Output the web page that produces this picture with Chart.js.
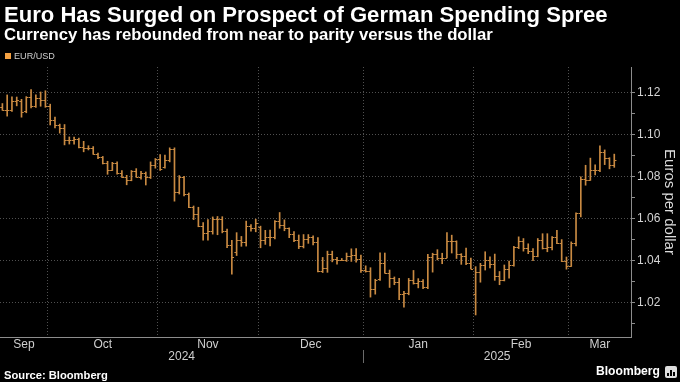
<!DOCTYPE html>
<html>
<head>
<meta charset="utf-8">
<script src="https://cdn.jsdelivr.net/npm/chart.js@4.4.1/dist/chart.umd.min.js"></script>
<style>
html,body{margin:0;padding:0;background:#000;width:680px;height:382px;overflow:hidden;font-family:"Liberation Sans",Arial,sans-serif;}
#wrap{position:relative;width:680px;height:382px;}
.t{position:absolute;white-space:nowrap;line-height:1;}
#title{left:4px;top:4px;color:#fff;font-weight:bold;font-size:21px;}
#sub{left:4px;top:27px;color:#fff;font-weight:bold;font-size:15px;}
#legsq{position:absolute;left:5px;top:53px;width:6px;height:6px;background:#f5a142;}
#legtx{left:14px;top:52px;color:#cfcfcf;font-size:9px;}
#src{left:4px;top:370px;color:#fff;font-weight:bold;font-size:11px;}
#logo{left:596px;top:365px;color:#fff;font-size:14px;font-weight:bold;}
#icon{position:absolute;left:665px;top:366px;width:12px;height:12px;background:#ddd;border-radius:2px;}
#icon i{position:absolute;bottom:2px;width:2px;background:#000;}
canvas{position:absolute;left:0;top:0;}
</style>
</head>
<body>
<div id="wrap">
<canvas id="c" width="680" height="382"></canvas>
<div class="t" id="title">Euro Has Surged on Prospect of German Spending Spree</div>
<div class="t" id="sub">Currency has rebounded from near to parity versus the dollar</div>
<div id="legsq"></div><div class="t" id="legtx">EUR/USD</div>
<div class="t" id="src">Source: Bloomberg</div>
<div class="t" id="logo">Bloomberg</div>
<div id="icon"><i style="left:2px;height:3px"></i><i style="left:5px;height:6px"></i><i style="left:8px;height:4px"></i></div>
</div>
<script>
// ---- categories (weekdays) ----
const monthNames = ['Sep','Oct','Nov','Dec','Jan','Feb','Mar'];
const monthYear  = ['2024','2024','2024','2024','2025','2025','2025'];
const yearLabels = ['2024','2025'];
const monthDays = [
  [17,18,19,20,23,24,25,26,27,30],
  [1,2,3,4,7,8,9,10,11,14,15,16,17,18,21,22,23,24,25,28,29,30,31],
  [1,4,5,6,7,8,11,12,13,14,15,18,19,20,21,22,25,26,27,28,29],
  [2,3,4,5,6,9,10,11,12,13,16,17,18,19,20,23,24,25,26,27,30,31],
  [1,2,3,6,7,8,9,10,13,14,15,16,17,20,21,22,23,24,27,28,29,30,31],
  [3,4,5,6,7,10,11,12,13,14,17,18,19,20,21,24,25,26,27,28],
  [3,4,5,6,7,10,11,12,13,14,17,18,19]
];
const yTicks = [1.01,1.02,1.03,1.04,1.05,1.06,1.07,1.08,1.09,1.10,1.11,1.12];

// ---- EUR/USD daily OHLC ----
const openV = [
 1.1132,1.1115,1.1118,1.1162,1.1160,1.1112,1.1180,1.1135,1.1176,1.1165,
 1.1135,1.1068,1.1048,1.1030,1.0975,1.0973,1.0978,1.0941,1.0935,1.0936,1.0910,1.0892,1.0863,1.0833,1.0867,1.0817,1.0797,1.0782,1.0827,1.0797,1.0816,1.0799,1.0855,
 1.0884,1.0845,1.0878,1.0930,1.0729,1.0799,1.0719,1.0655,1.0620,1.0565,1.0530,1.0541,1.0597,1.0597,1.0543,1.0473,1.0440,1.0496,1.0487,1.0565,1.0553,
 1.0560,1.0497,1.0511,1.0510,1.0587,1.0568,1.0555,1.0528,1.0499,1.0469,1.0501,1.0513,1.0490,1.0352,1.0364,1.0429,1.0407,1.0404,1.0405,1.0421,1.0426,1.0409,
 1.0354,1.0350,1.0265,1.0310,1.0390,1.0342,1.0318,1.0300,1.0243,1.0245,1.0308,1.0292,1.0301,1.0272,1.0418,1.0429,1.0410,1.0414,1.0495,1.0493,1.0430,1.0422,1.0389,
 1.0240,1.0345,1.0379,1.0404,1.0382,1.0328,1.0308,1.0362,1.0381,1.0465,1.0491,1.0458,1.0446,1.0422,1.0500,1.0459,1.0466,1.0512,1.0484,1.0400,
 1.0375,1.0484,1.0625,1.0790,1.0784,1.0833,1.0832,1.0919,1.0890,1.0853
];
const highV = [
 1.1148,1.1189,1.1180,1.1179,1.1168,1.1181,1.1214,1.1189,1.1203,1.1209,
 1.1145,1.1083,1.1050,1.1048,1.0989,1.0988,1.0983,1.0968,1.0947,1.0943,1.0912,1.0896,1.0873,1.0868,1.0870,1.0829,1.0806,1.0829,1.0838,1.0825,1.0822,1.0870,1.0886,
 1.0905,1.0902,1.0937,1.0937,1.0805,1.0801,1.0722,1.0660,1.0654,1.0581,1.0595,1.0608,1.0610,1.0609,1.0550,1.0497,1.0533,1.0515,1.0588,1.0572,1.0597,
 1.0564,1.0544,1.0545,1.0590,1.0629,1.0594,1.0556,1.0538,1.0522,1.0524,1.0524,1.0518,1.0509,1.0415,1.0445,1.0445,1.0416,1.0410,1.0436,1.0456,1.0457,1.0426,
 1.0375,1.0366,1.0311,1.0437,1.0436,1.0355,1.0322,1.0315,1.0254,1.0315,1.0353,1.0314,1.0310,1.0430,1.0435,1.0452,1.0435,1.0533,1.0521,1.0494,1.0433,1.0459,1.0412,
 1.0371,1.0387,1.0442,1.0418,1.0431,1.0348,1.0379,1.0398,1.0468,1.0513,1.0505,1.0480,1.0457,1.0505,1.0528,1.0528,1.0514,1.0544,1.0500,1.0417,
 1.0489,1.0627,1.0799,1.0854,1.0888,1.0856,1.0947,1.0927,1.0890,1.0907
];
const lowV = [
 1.1116,1.1088,1.1110,1.1137,1.1083,1.1104,1.1127,1.1130,1.1135,1.1130,
 1.1046,1.1032,1.1007,1.0951,1.0955,1.0954,1.0937,1.0918,1.0927,1.0906,1.0885,1.0860,1.0811,1.0829,1.0812,1.0796,1.0761,1.0780,1.0797,1.0788,1.0760,1.0791,1.0840,
 1.0830,1.0840,1.0870,1.0683,1.0717,1.0708,1.0652,1.0595,1.0561,1.0497,1.0497,1.0526,1.0523,1.0532,1.0462,1.0335,1.0424,1.0468,1.0469,1.0540,1.0537,
 1.0461,1.0477,1.0470,1.0503,1.0554,1.0542,1.0509,1.0490,1.0457,1.0460,1.0482,1.0475,1.0346,1.0343,1.0344,1.0394,1.0383,1.0400,1.0396,1.0396,1.0393,1.0343,
 1.0345,1.0226,1.0240,1.0305,1.0340,1.0272,1.0285,1.0214,1.0178,1.0237,1.0288,1.0270,1.0266,1.0266,1.0345,1.0403,1.0385,1.0413,1.0436,1.0410,1.0382,1.0380,1.0360,
 1.0141,1.0297,1.0355,1.0365,1.0306,1.0285,1.0303,1.0316,1.0373,1.0457,1.0445,1.0433,1.0400,1.0418,1.0455,1.0442,1.0451,1.0480,1.0395,1.0359,
 1.0372,1.0470,1.0608,1.0759,1.0782,1.0808,1.0824,1.0857,1.0837,1.0844
];
const closeV = [
 1.1115,1.1118,1.1162,1.1163,1.1110,1.1180,1.1135,1.1176,1.1165,1.1135,
 1.1068,1.1048,1.1030,1.0975,1.0973,1.0978,1.0941,1.0935,1.0936,1.0910,1.0892,1.0863,1.0833,1.0867,1.0817,1.0797,1.0782,1.0827,1.0797,1.0816,1.0799,1.0855,1.0884,
 1.0834,1.0878,1.0930,1.0729,1.0799,1.0719,1.0655,1.0620,1.0565,1.0530,1.0541,1.0597,1.0597,1.0543,1.0473,1.0418,1.0496,1.0487,1.0565,1.0553,1.0577,
 1.0497,1.0511,1.0510,1.0587,1.0568,1.0555,1.0528,1.0499,1.0469,1.0501,1.0513,1.0490,1.0352,1.0364,1.0429,1.0407,1.0404,1.0405,1.0421,1.0426,1.0409,1.0354,
 1.0350,1.0265,1.0307,1.0390,1.0342,1.0318,1.0300,1.0243,1.0245,1.0308,1.0292,1.0301,1.0272,1.0418,1.0429,1.0410,1.0414,1.0495,1.0493,1.0430,1.0422,1.0389,1.0362,
 1.0345,1.0379,1.0404,1.0382,1.0328,1.0308,1.0362,1.0381,1.0465,1.0491,1.0458,1.0446,1.0422,1.0500,1.0459,1.0466,1.0512,1.0484,1.0400,1.0375,
 1.0484,1.0625,1.0790,1.0784,1.0833,1.0832,1.0919,1.0890,1.0853,1.0879
];

// ---- build categories ----
const dates = [];
const monthStarts = [];
monthDays.forEach((days, m) => {
  monthStarts.push(dates.length);
  days.forEach(d => dates.push(monthNames[m] + ' ' + d + ' ' + monthYear[m]));
});

const BAR = '#c98a42';
const GRID = '#505050';
const AXIS = '#8c8c8c';
const isMajor = v => v != null && Math.round(v * 100) % 2 === 0;

const ohlcTicks = {
  id: 'ohlcTicks',
  afterDatasetsDraw(chart) {
    const meta = chart.getDatasetMeta(0);
    const ys = chart.scales.y;
    const ctx = chart.ctx;
    ctx.save();
    ctx.strokeStyle = BAR;
    ctx.lineWidth = 1;
    ctx.beginPath();
    meta.data.forEach((bar, i) => {
      if (openV[i] == null) return;
      const x = bar.x;
      const yo = Math.round(ys.getPixelForValue(openV[i])) + 0.5;
      const yc = Math.round(ys.getPixelForValue(closeV[i])) + 0.5;
      ctx.moveTo(x - 2.2, yo); ctx.lineTo(x, yo);
      ctx.moveTo(x, yc); ctx.lineTo(x + 2.2, yc);
    });
    ctx.stroke();
    ctx.restore();
  }
};

const axisLabels = {
  id: 'axisLabels',
  afterDraw(chart) {
    const xs = chart.scales.x, ctx = chart.ctx, area = chart.chartArea;
    const slot = xs.getPixelForValue(1) - xs.getPixelForValue(0);
    const edge = i => xs.getPixelForValue(i) - slot / 2;
    ctx.save();
    ctx.fillStyle = '#cfcfcf';
    ctx.font = '12px "Liberation Sans", Arial, sans-serif';
    ctx.textAlign = 'center';
    ctx.textBaseline = 'middle';
    const n = dates.length;
    monthNames.forEach((m, k) => {
      const a = edge(monthStarts[k]);
      const b = k + 1 < monthStarts.length ? edge(monthStarts[k + 1]) : edge(n);
      let cx = (a + b) / 2;
      cx = Math.min(cx, area.right - 13);
      ctx.fillText(m, cx, 345);
    });
    const janIdx = monthStarts[monthYear.indexOf('2025')];
    const yb = edge(janIdx);
    ctx.fillText(yearLabels[0], (area.left + yb) / 2, 357);
    ctx.fillText(yearLabels[1], (yb + area.right) / 2, 357);
    ctx.strokeStyle = '#6a6a6a';
    ctx.lineWidth = 1;
    ctx.beginPath();
    ctx.moveTo(Math.round(yb) + 0.5, 350);
    ctx.lineTo(Math.round(yb) + 0.5, 363);
    ctx.stroke();
    ctx.restore();
  }
};

new Chart(document.getElementById('c'), {
  type: 'bar',
  data: {
    labels: dates,
    datasets: [{
      label: 'EUR/USD',
      data: lowV.map((l, i) => [l, highV[i]]),
      backgroundColor: BAR,
      borderWidth: 0,
      barThickness: 1
    }]
  },
  options: {
    responsive: false,
    animation: false,
    devicePixelRatio: 1,
    layout: { padding: { top: 67, bottom: 45, left: 0, right: 0 } },
    plugins: { legend: { display: false }, tooltip: { enabled: false }, title: { display: false } },
    scales: {
      x: {
        type: 'category',
        offset: true,
        ticks: { display: false, autoSkip: false },
        grid: {
          offset: true,
          drawTicks: false,
          color: c => (monthStarts.includes(c.index) && c.index > 0) ? GRID : 'rgba(0,0,0,0)',
          lineWidth: 1
        },
        border: { display: true, color: AXIS, dash: [1, 2] },
        afterFit: s => { s.height = 0; }
      },
      y: {
        position: 'right',
        min: 1.0036,
        max: 1.1322,
        afterBuildTicks: s => { s.ticks = yTicks.map(v => ({ value: v })); },
        ticks: {
          callback: v => isMajor(v) ? v.toFixed(2) : '',
          color: '#d4d4d4',
          font: { size: 12, family: '"Liberation Sans", Arial, sans-serif' },
          padding: 2
        },
        grid: {
          color: c => isMajor(c.tick && c.tick.value) ? GRID : 'rgba(0,0,0,0)',
          tickColor: AXIS,
          tickLength: 4,
          drawTicks: true
        },
        border: { display: true, color: AXIS, dash: [1, 2] },
        title: {
          display: true,
          text: 'Euros per dollar',
          color: '#dcdcdc',
          font: { size: 15, family: '"Liberation Sans", Arial, sans-serif' },
          padding: { top: 2, bottom: 0 }
        },
        afterFit: s => { s.width = 49; }
      }
    }
  },
  plugins: [ohlcTicks, axisLabels]
});

function fit(id, w) {
  const el = document.getElementById(id);
  const cur = parseFloat(getComputedStyle(el).fontSize);
  el.style.fontSize = (cur * w / el.getBoundingClientRect().width) + 'px';
}
fit('title', 604); fit('sub', 489); fit('legtx', 41); fit('src', 104); fit('logo', 64);
</script>
</body>
</html>
